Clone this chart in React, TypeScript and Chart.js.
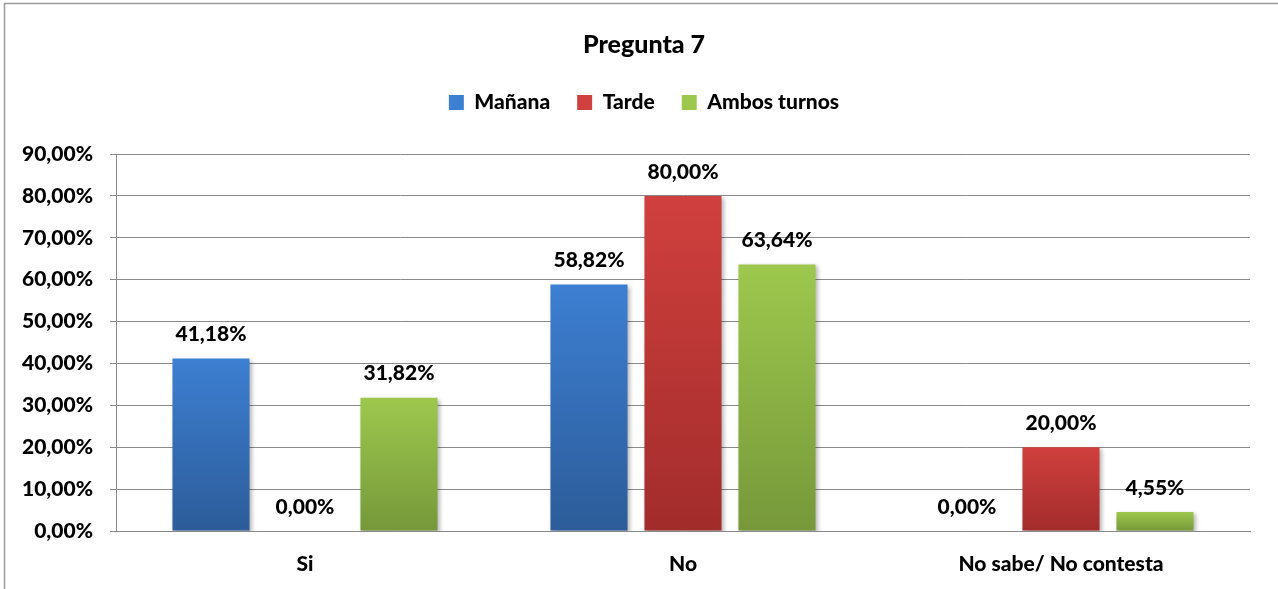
import { useEffect, useRef } from 'react';
import { Chart, registerables } from 'chart.js';

Chart.register(...registerables);

const categories = ['Si', 'No', 'No sabe/ No contesta'];
const seriesNames = ['Mañana', 'Tarde', 'Ambos turnos'];
const manana = [41.18, 58.82, 0];
const tarde = [0, 80, 20];
const ambos = [31.82, 63.64, 4.55];
const yMin = 0;
const yMax = 90;
const yStep = 10;

const FONT = 'Lato, "Open Sans", sans-serif';
const W = 900;

const fmt = (v: number) => v.toFixed(2).replace('.', ',') + '%';

const grad = (top: string, bottom: string) => (ctx: any) => {
  if (ctx.type !== 'data') return top;
  const chart = ctx.chart;
  const y = chart.scales && chart.scales.y;
  if (!y || !chart.chartArea) return top;
  const yTop = y.getPixelForValue(ctx.raw);
  const yBot = y.getPixelForValue(0);
  if (!isFinite(yTop) || !isFinite(yBot) || yBot - yTop < 1) return top;
  const g = chart.ctx.createLinearGradient(0, yTop, 0, yBot);
  g.addColorStop(0, top);
  g.addColorStop(1, bottom);
  return g;
};

const frame = {
  id: 'frame',
  beforeDraw(chart: any) {
    const c = chart.ctx;
    c.save();
    c.fillStyle = '#ffffff';
    c.fillRect(0, 0, chart.width, chart.height);
    c.strokeStyle = '#9a9a9a';
    c.lineWidth = 1.5;
    c.strokeRect(4.5, 3.5, chart.width + 100, chart.height + 100);
    c.restore();
  },
  beforeDatasetsDraw(chart: any) {
    const c = chart.ctx;
    c.save();
    c.shadowColor = 'rgba(0,0,0,0.28)';
    c.shadowBlur = 4;
    c.shadowOffsetX = 2;
    c.shadowOffsetY = 2;
  },
  afterDatasetsDraw(chart: any) {
    const c = chart.ctx;
    c.restore();
    c.save();
    c.fillStyle = '#000000';
    c.font = `${W} 21px ${FONT}`;
    c.textAlign = 'center';
    c.textBaseline = 'middle';
    chart.data.datasets.forEach((ds: any, i: number) => {
      const meta = chart.getDatasetMeta(i);
      meta.data.forEach((el: any, j: number) => {
        c.fillText(fmt(ds.data[j]), el.x, el.y - 24);
      });
    });
    c.restore();
  },
};

export default function App() {
  const ref = useRef<HTMLCanvasElement | null>(null);
  useEffect(() => {
    document.body.style.margin = '0';
    if (!ref.current) return;
    const chart = new Chart(ref.current, {
      type: 'bar',
      data: {
        labels: categories,
        datasets: [
          { label: seriesNames[0], data: manana, backgroundColor: grad('#3d7fd2', '#2c5c99'), borderWidth: 0 },
          { label: seriesNames[1], data: tarde, backgroundColor: grad('#d0403e', '#a22c2b'), borderWidth: 0 },
          { label: seriesNames[2], data: ambos, backgroundColor: grad('#9dc84d', '#76983a'), borderWidth: 0 },
        ],
      },
      options: {
        responsive: false,
        animation: false,
        events: [],
        layout: { padding: { left: 10, right: 0, top: 0, bottom: 0 } },
        datasets: {
          bar: { categoryPercentage: 0.746, barPercentage: 0.82 },
        },
        plugins: {
          title: {
            display: true,
            text: 'Pregunta 7',
            color: '#000',
            font: { family: FONT, size: 25, weight: W as any, lineHeight: 1.2 },
            padding: { top: 30, bottom: 5 },
          },
          subtitle: {
            display: true,
            text: '',
            weight: 500,
            font: { size: 1, lineHeight: 1 },
            padding: { top: 15, bottom: 15 },
          } as any,
          legend: {
            display: true,
            position: 'top',
            labels: {
              color: '#000',
              font: { family: FONT, size: 21, weight: W as any },
              boxWidth: 15,
              boxHeight: 15,
              padding: 27,
            },
          },
          tooltip: { enabled: false },
        },
        scales: {
          x: {
            grid: { display: false, drawTicks: false },
            border: { display: true, color: '#888888' },
            ticks: {
              color: '#000',
              font: { family: FONT, size: 21, weight: W as any },
              padding: 21,
            },
            afterFit(scale: any) {
              scale.height = 58;
            },
          },
          y: {
            min: yMin,
            max: yMax,
            grid: { color: '#8a8a8a', lineWidth: 1, tickLength: 6, drawTicks: true },
            border: { display: true, color: '#8a8a8a', width: 1 },
            ticks: {
              stepSize: yStep,
              color: '#000',
              font: { family: FONT, size: 21, weight: W as any },
              padding: 17,
              callback: (v: any) => fmt(Number(v)),
            },
            afterFit(scale: any) {
              scale.width = 106;
            },
          },
          yR: {
            position: 'right',
            display: true,
            grid: { display: false, drawTicks: false },
            border: { display: false },
            ticks: { display: false },
            afterFit(scale: any) {
              scale.width = 28;
            },
          },
        },
      },
      plugins: [frame],
    });
    return () => chart.destroy();
  }, []);
  return (
    <div style={{ width: 1278, height: 589 }}>
      <canvas ref={ref} width={1278} height={589} />
    </div>
  );
}
